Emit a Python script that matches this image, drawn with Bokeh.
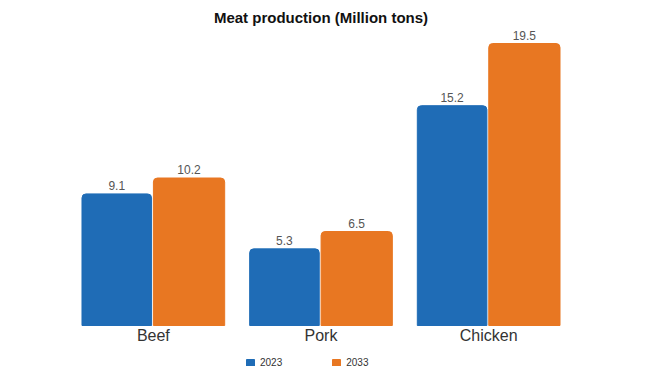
from bokeh.plotting import figure
from bokeh.models import ColumnDataSource, FactorRange, Range1d, LabelSet, Legend, LegendItem
from bokeh.core.properties import value
from bokeh.transform import dodge
from bokeh.embed import file_html
from bokeh.resources import INLINE

categories = ["Beef", "Pork", "Chicken"]
y2023 = [9.1, 5.3, 15.2]
y2033 = [10.2, 6.5, 19.5]
series_names = ["2023", "2033"]

BLUE = "#1f6cb6"
ORANGE = "#e87722"
FONT = "Liberation Sans"

src = ColumnDataSource(dict(
    cat=categories, a=y2023, b=y2033,
    la=[f"{v:.1f}" for v in y2023], lb=[f"{v:.1f}" for v in y2033],
))

# frame reaches the bottom of the window; the axis is pinned at y=0 inside it
p = figure(x_range=FactorRange(*categories, range_padding=0), y_range=Range1d(-2.835, 20.4),
           frame_width=503, frame_height=336, output_backend="svg", toolbar_location=None,
           title="Meat production (Million tons)",
           min_border_left=69, min_border_right=78, min_border_top=30, min_border_bottom=30)
p.title.align = "center"
p.title.text_font = FONT
p.title.text_font_size = "15px"
p.title.text_font_style = "bold"
p.title.text_color = "#111111"
p.outline_line_color = None
p.xgrid.grid_line_color = None
p.ygrid.grid_line_color = None
p.yaxis.visible = False
p.xaxis.fixed_location = 0
p.xaxis.axis_line_color = None
p.xaxis.major_tick_line_color = None
p.xaxis.minor_tick_line_color = None
p.xaxis.major_tick_out = 0
p.xaxis.major_tick_in = 0
p.xaxis.major_label_text_font = FONT
p.xaxis.major_label_text_font_size = "16px"
p.xaxis.major_label_text_color = "#333333"
p.xaxis.major_label_standoff = 1

r1 = p.vbar(x=dodge("cat", -0.218, range=p.x_range), top="a", width=0.415, source=src,
            color=BLUE, border_radius=(4, 4, 0, 0))
r2 = p.vbar(x=dodge("cat", 0.213, range=p.x_range), top="b", width=0.425, source=src,
            color=ORANGE, border_radius=(4, 4, 0, 0))

for col, lab, off in (("a", "la", -0.218), ("b", "lb", 0.213)):
    p.add_layout(LabelSet(x=dodge("cat", off, range=p.x_range), y=col, text=lab, source=src,
                          text_align="center", text_baseline="bottom", y_offset=4,
                          text_font=value(FONT), text_font_size=value("12px"),
                          text_color="#555555"))

legend = Legend(items=[LegendItem(label=series_names[0], renderers=[r1]),
                       LegendItem(label=series_names[1], renderers=[r2])],
                orientation="horizontal", location=(176, -2), padding=0, margin=0,
                glyph_width=10, glyph_height=10, label_standoff=5, spacing=49,
                label_text_font=FONT, label_text_font_size="10px", label_text_color="#333333",
                border_line_color=None, background_fill_alpha=0)
p.add_layout(legend)

open("out.html", "w").write(file_html(p, INLINE))
